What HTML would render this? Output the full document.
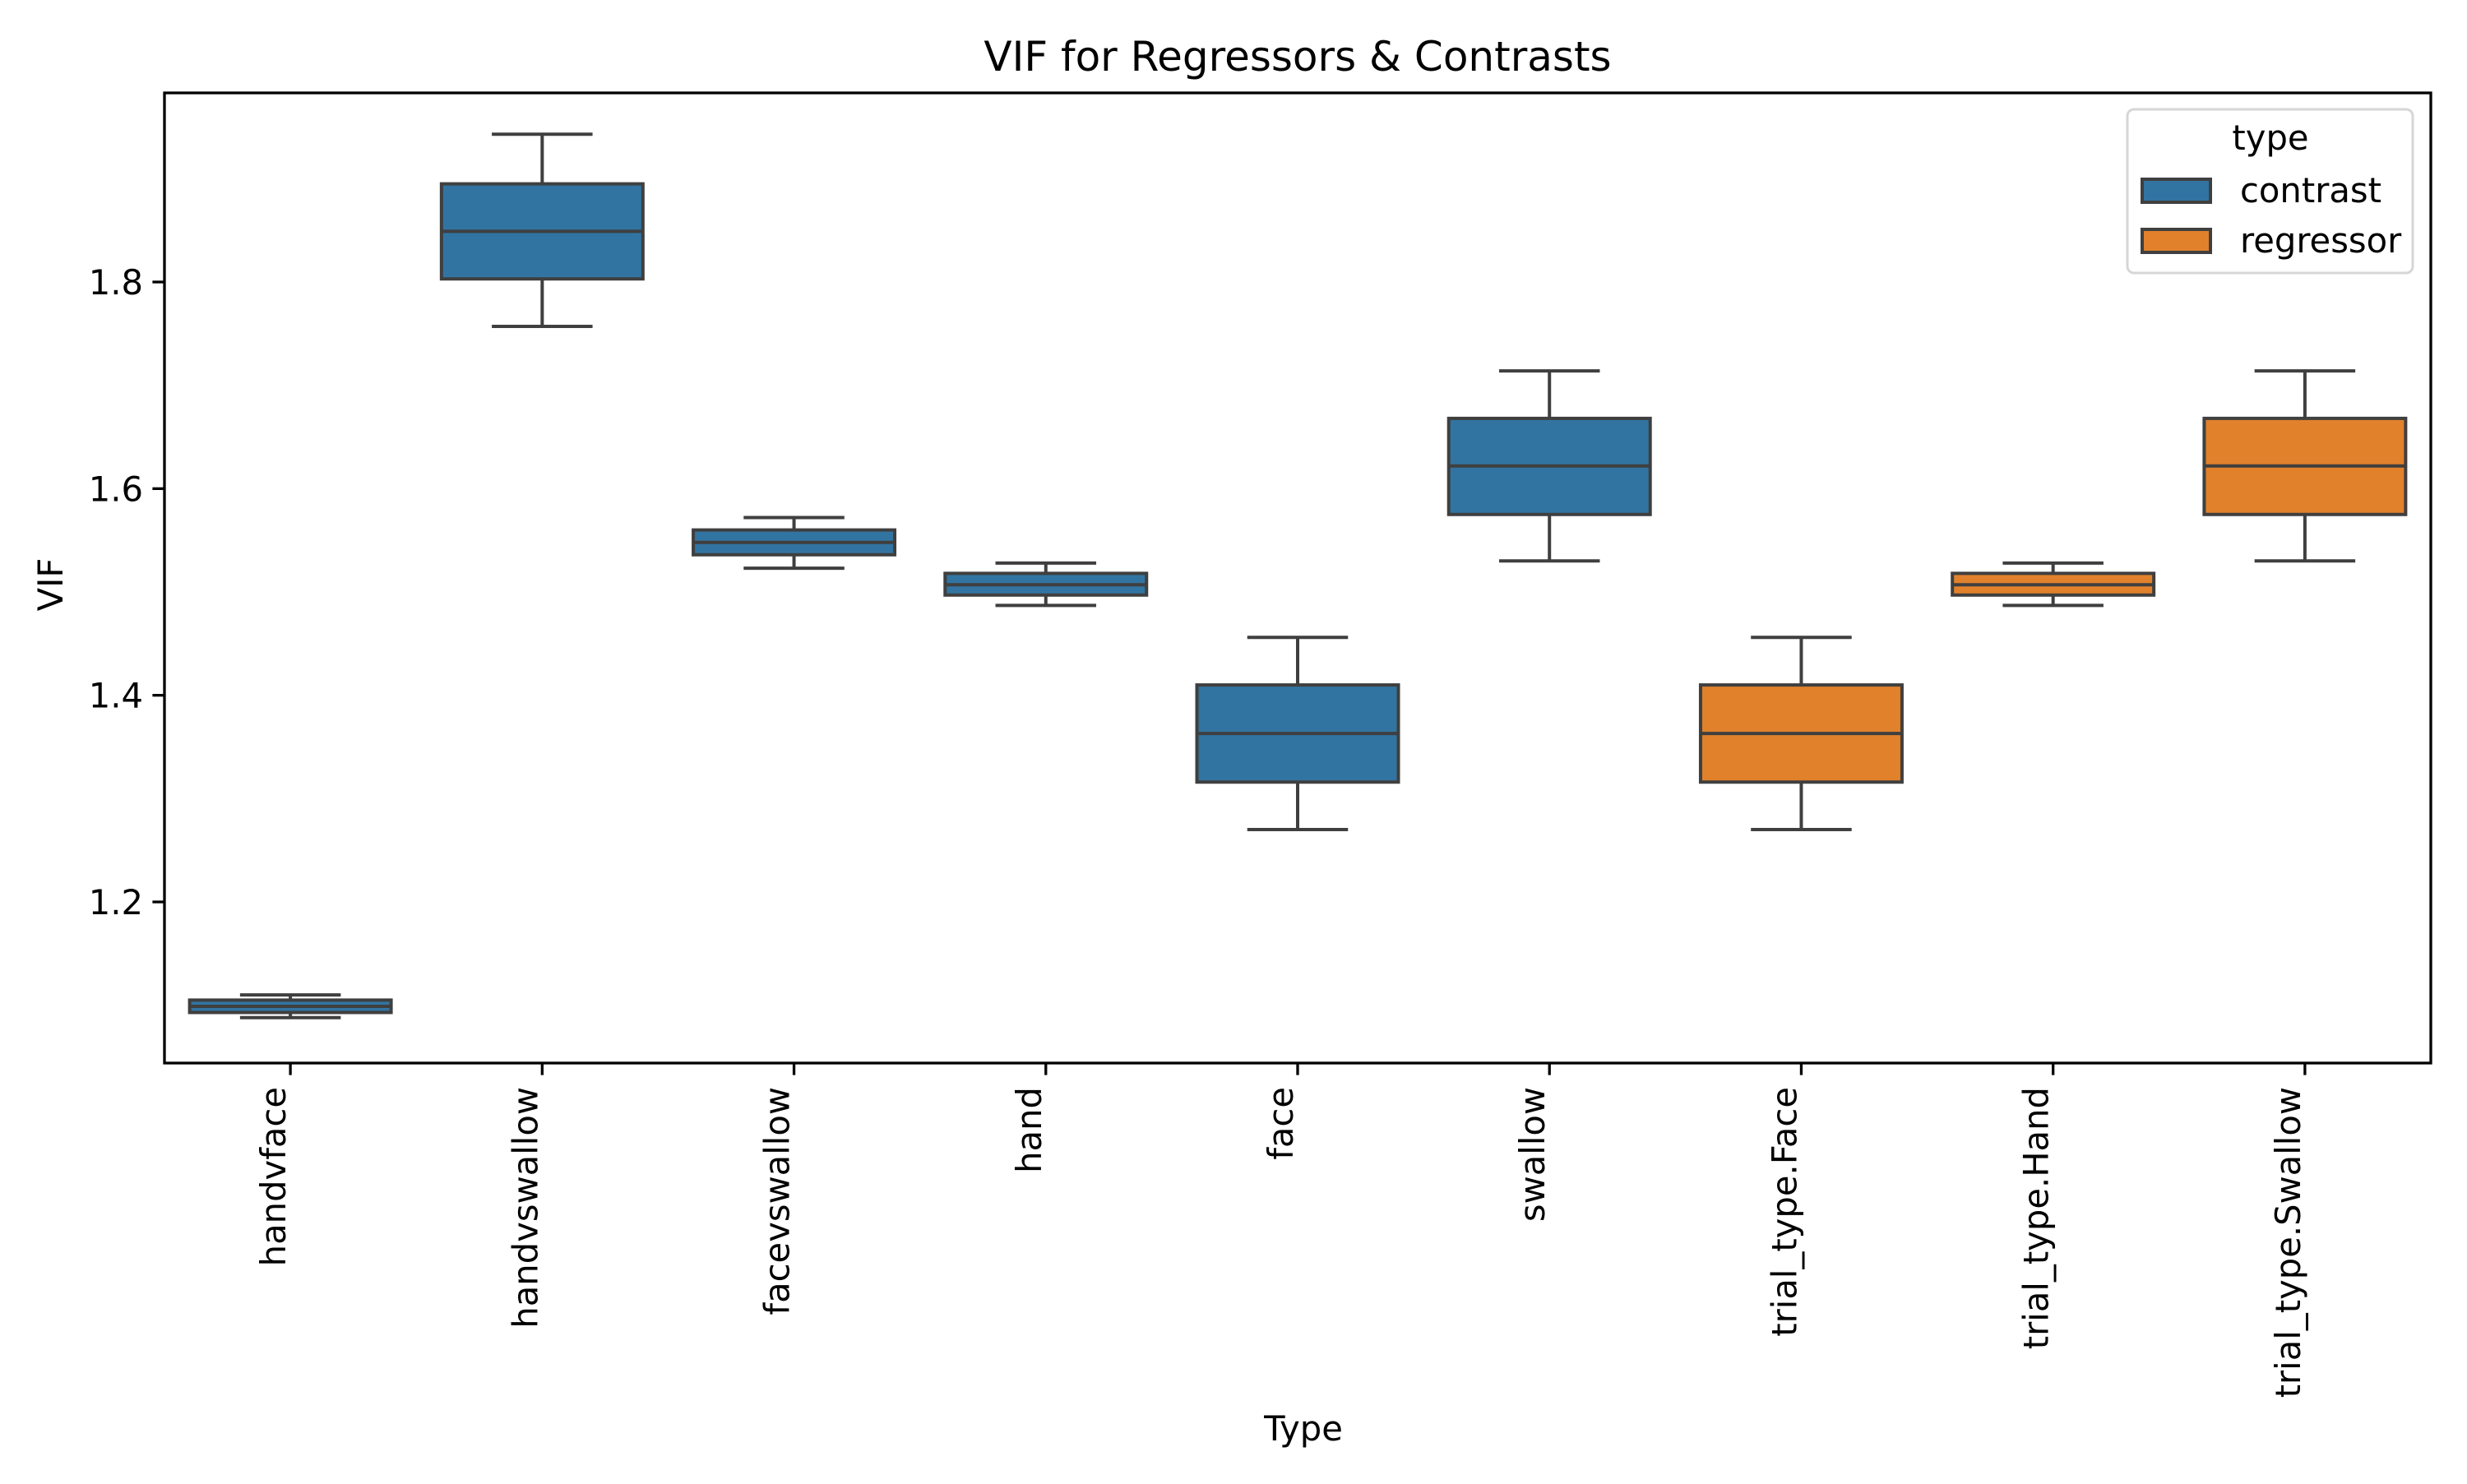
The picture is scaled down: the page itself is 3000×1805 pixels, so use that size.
<!DOCTYPE html>
<html><head><meta charset="utf-8"><style>
html,body{margin:0;padding:0;background:#fff}
svg text{font-family:"DejaVu Sans","Liberation Sans",sans-serif;fill:#000}
</style></head><body>
<svg id="chart" width="3000" height="1800" viewBox="0 0 3000 1800" xmlns="http://www.w3.org/2000/svg">
<text x="1578" y="86" font-size="50" text-anchor="middle">VIF for Regressors &amp; Contrasts</text>
<g id="plot"></g>
<text transform="translate(76,711) rotate(-90)" font-size="41.7" text-anchor="middle">VIF</text>
<text x="1585" y="1752" font-size="41.7" text-anchor="middle">Type</text>
<g>
<rect x="2587" y="133" width="347" height="199" rx="8" fill="#fff" stroke="#d6d6d6" stroke-width="3"/>
<text x="2761" y="182" font-size="41.7" text-anchor="middle">type</text>
<rect x="2605" y="218" width="83" height="28" fill="#3274a1" stroke="#3f3f3f" stroke-width="4"/>
<text x="2724" y="246" font-size="41.7">contrast</text>
<rect x="2605" y="279" width="83" height="28" fill="#e1812c" stroke="#3f3f3f" stroke-width="4"/>
<text x="2724" y="307" font-size="41.7">regressor</text>
</g>
</svg>
<script>
const categories=["handvface","handvswallow","facevswallow","hand","face","swallow","trial_type.Face","trial_type.Hand","trial_type.Swallow"];
const types=["contrast","contrast","contrast","contrast","contrast","contrast","regressor","regressor","regressor"];
const whisLo=[1.088,1.757,1.523,1.487,1.270,1.530,1.270,1.487,1.530];
const q1=[1.093,1.803,1.536,1.497,1.316,1.575,1.316,1.497,1.575];
const med=[1.099,1.849,1.548,1.507,1.363,1.622,1.363,1.507,1.622];
const q3=[1.105,1.895,1.560,1.518,1.410,1.668,1.410,1.518,1.668];
const whisHi=[1.110,1.943,1.572,1.528,1.456,1.714,1.456,1.528,1.714];
const yTicks=[1.2,1.4,1.6,1.8];
const NS="http://www.w3.org/2000/svg";
const L=200,R=2956,T=113,B=1293;
function y(v){return 343+(1.8-v)*1256.7;}
const band=(R-L)/categories.length;
function xc(i){return L+band*(i+0.5);}
const colors={contrast:"#3274a1",regressor:"#e1812c"};
const g=document.getElementById("plot");
function mk(tag,attrs){const e=document.createElementNS(NS,tag);for(const k in attrs)e.setAttribute(k,attrs[k]);g.appendChild(e);return e;}
yTicks.forEach(t=>{
 const tk=mk("line",{x1:L-14.6,x2:L,y1:y(t),y2:y(t),stroke:"#000","stroke-width":3.3});
 
 
 const tx=mk("text",{x:L-26,y:y(t)+15,"font-size":41.7,"text-anchor":"end"});
 tx.textContent=t.toFixed(1);
 
 
});
categories.forEach((c,i)=>{
 const cx=xc(i),w=band*0.8,cw=w/2,st="#3f3f3f",sw=4;
 const grp=document.createElementNS(NS,"g");g.appendChild(grp);
 
 
 const add=(tag,a)=>{const e=document.createElementNS(NS,tag);for(const k in a)e.setAttribute(k,a[k]);grp.appendChild(e);return e;};
 add("line",{x1:cx,x2:cx,y1:y(q1[i]),y2:y(whisLo[i]),stroke:st,"stroke-width":sw});
 add("line",{x1:cx,x2:cx,y1:y(q3[i]),y2:y(whisHi[i]),stroke:st,"stroke-width":sw});
 add("line",{x1:cx-cw/2,x2:cx+cw/2,y1:y(whisLo[i]),y2:y(whisLo[i]),stroke:st,"stroke-width":sw});
 add("line",{x1:cx-cw/2,x2:cx+cw/2,y1:y(whisHi[i]),y2:y(whisHi[i]),stroke:st,"stroke-width":sw});
 add("rect",{x:cx-w/2,y:y(q3[i]),width:w,height:y(q1[i])-y(q3[i]),fill:colors[types[i]],stroke:st,"stroke-width":sw});
 add("line",{x1:cx-w/2,x2:cx+w/2,y1:y(med[i]),y2:y(med[i]),stroke:st,"stroke-width":sw});
 const tk=mk("line",{x1:cx,x2:cx,y1:B,y2:B+14.6,stroke:"#000","stroke-width":3.3});
 
 
 const tx=mk("text",{transform:`translate(${cx-6},${B+29}) rotate(-90)`,"font-size":41.7,"text-anchor":"end"});
 tx.textContent=c;
 
 
});
const frame=mk("rect",{x:L,y:T,width:R-L,height:B-T,fill:"none",stroke:"#000","stroke-width":3.3});


</script>
</body></html>
